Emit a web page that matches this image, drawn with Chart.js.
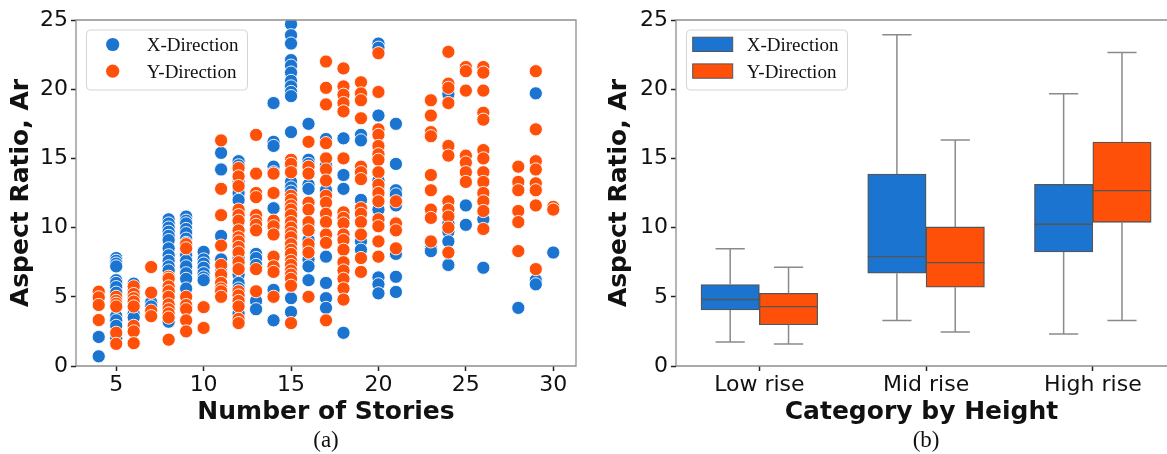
<!DOCTYPE html>
<html>
<head>
<meta charset="utf-8">
<script src="https://cdn.jsdelivr.net/npm/chart.js@4.4.1/dist/chart.umd.min.js"></script>
<style>
  html, body { margin: 0; padding: 0; background: #fff; overflow: hidden; width: 1167px; height: 454px; }
  .panel { position: absolute; top: 0; height: 454px; }
  #pa { left: 0; width: 590px; }
  #pb { left: 590px; width: 577px; }
</style>
</head>
<body>
<div class="panel" id="pa"><canvas id="ca" width="590" height="454"></canvas></div>
<div class="panel" id="pb"><canvas id="cb" width="577" height="454"></canvas></div>
<script>
// ---- (a) aspect ratio of each building vs. number of stories ----
const stories = [4, 5, 6, 7, 8, 9, 10, 11, 12, 13, 14, 15, 16, 17, 18, 19, 20, 21, 23, 24, 25, 26, 28, 29, 30];

// X-direction aspect ratios, one list per story count above
const arX = [
  [2.1, 0.7],
  [7.8, 7.6, 7.4, 7.2, 6.2, 6.0, 5.7, 5.3, 3.6, 3.3, 2.9, 2.0],
  [5.95, 5.5, 4.2, 3.8, 3.5],
  [4.6, 4.3],
  [10.6, 10.3, 10.0, 9.7, 9.4, 9.1, 8.5, 8.0, 7.6, 7.2, 6.9, 3.4, 3.2],
  [10.8, 10.5, 10.3, 9.9, 9.6, 9.2, 8.9, 8.0, 7.6, 7.2, 6.7, 6.3, 5.6],
  [8.25, 7.7, 7.4, 7.1, 6.7, 6.4, 6.2],
  [15.4, 14.2, 9.4, 7.7, 7.2, 6.8, 6.5],
  [14.8, 14.5, 13.3, 13.0, 12.5, 12.0, 11.0, 10.4, 8.2, 7.8, 6.6, 6.0, 5.6, 5.2, 4.8, 4.3, 3.8],
  [8.1, 7.8, 7.3, 4.7, 4.1],
  [19.0, 16.2, 15.9, 14.4, 14.0, 11.4, 5.5, 3.3],
  [24.7, 23.9, 23.3, 22.1, 21.7, 21.2, 20.6, 20.2, 19.8, 19.5, 16.9, 14.5, 14.3, 13.3, 12.9, 12.6, 11.6, 10.8, 10.2, 4.9, 3.9],
  [17.5, 14.9, 14.6, 13.1, 12.8, 10.2, 9.8, 9.1, 8.6, 7.7, 7.2, 6.2],
  [16.4, 14.5, 12.7, 7.9, 6.0, 4.9, 4.2],
  [16.45, 13.8, 12.8, 2.4],
  [16.7, 16.3, 12.0, 9.0, 8.4],
  [23.3, 23.0, 18.1, 13.4, 12.9, 11.3, 6.4, 5.9, 5.25],
  [17.5, 14.6, 12.7, 12.4, 11.6, 8.1, 6.45, 5.35],
  [8.5, 8.3],
  [19.65, 10.3, 9.7, 9.0, 7.3],
  [11.6, 10.2],
  [10.6, 7.1],
  [4.2],
  [19.7, 6.2, 5.9],
  [8.2]
];

// Y-direction aspect ratios, one list per story count above
const arY = [
  [5.37, 4.96, 4.41, 3.32],
  [5.0, 4.7, 4.5, 4.3, 2.4, 1.6],
  [5.75, 5.2, 4.9, 4.65, 4.3, 2.9, 2.5, 1.65],
  [7.15, 5.3, 4.0, 3.6],
  [6.45, 6.3, 5.75, 5.4, 5.0, 4.45, 4.1, 3.8, 3.5, 1.9],
  [8.8, 8.5, 5.0, 4.4, 4.1, 3.3, 2.5],
  [4.25, 2.75],
  [16.3, 12.8, 10.9, 8.7, 7.3, 6.6, 6.0, 5.6, 5.4, 5.0],
  [14.3, 13.7, 13.0, 11.3, 10.9, 10.5, 9.8, 9.3, 9.0, 8.6, 8.2, 7.5, 7.0, 5.4, 5.1, 4.7, 4.3, 3.4, 3.1],
  [16.7, 13.9, 12.5, 12.2, 10.9, 10.5, 10.2, 9.8, 7.0, 5.4],
  [13.9, 12.5, 10.5, 10.1, 9.5, 7.9, 7.2, 6.8, 5.0],
  [14.9, 14.6, 14.0, 12.3, 12.0, 11.6, 11.3, 10.9, 10.4, 10.0, 9.6, 9.3, 8.8, 8.4, 8.1, 7.6, 7.3, 6.9, 6.6, 6.3, 5.8, 3.1],
  [16.2, 14.4, 13.9, 11.8, 11.3, 10.4, 9.8, 8.8, 8.2, 5.0],
  [22.0, 20.1, 18.9, 16.1, 15.0, 14.2, 13.4, 12.3, 11.8, 11.0, 10.4, 9.5, 8.9, 3.3],
  [21.5, 20.2, 19.6, 19.0, 18.4, 15.0, 11.1, 10.7, 10.3, 9.5, 9.1, 8.4, 7.5, 6.9, 6.3, 5.6, 4.8],
  [20.5, 19.7, 19.2, 17.9, 14.4, 14.0, 13.5, 11.4, 11.0, 10.4, 9.5, 7.8, 6.8],
  [22.6, 19.8, 17.1, 16.7, 15.9, 15.3, 14.9, 14.0, 13.1, 12.5, 11.9, 10.6, 10.1, 9.0, 7.9],
  [11.9, 10.3, 9.8, 8.5],
  [19.2, 18.1, 16.9, 16.6, 13.8, 12.7, 11.3, 10.7, 9.0],
  [22.7, 20.4, 20.1, 19.0, 15.9, 15.2, 11.9, 11.3, 10.8, 10.0, 8.2],
  [21.6, 21.3, 19.9, 15.2, 14.7, 14.0, 13.3],
  [21.6, 21.2, 19.9, 18.3, 17.8, 15.6, 15.0, 14.0, 13.3, 12.5, 11.9, 11.2, 9.9],
  [14.4, 13.3, 12.7, 11.2, 10.4, 8.3],
  [21.3, 17.1, 14.8, 14.2, 13.2, 12.7, 11.6, 7.0],
  [11.5, 11.3]
];

const storyTicks = [5, 10, 15, 20, 25, 30];
const arTicks = [0, 5, 10, 15, 20, 25];

// ---- (b) box statistics per height category ----
const heightCats = ['Low rise', 'Mid rise', 'High rise'];
const xLo  = [1.73, 3.28, 2.31];
const xQ1  = [4.05, 6.70, 8.24];
const xMed = [4.81, 7.90, 10.24];
const xQ3  = [5.88, 13.87, 13.13];
const xHi  = [8.48, 23.94, 19.68];
const yLo  = [1.59, 2.46, 3.28];
const yQ1  = [2.98, 5.69, 10.38];
const yMed = [4.29, 7.47, 12.67];
const yQ3  = [5.25, 10.05, 16.18];
const yHi  = [7.13, 16.33, 22.66];

const seriesNames = ['X-Direction', 'Y-Direction'];

// ---- styling ----
const BLUE = '#1a74d0';
const ORANGE = '#ff500a';
const SPINE = '#8e8e8e';
const EDGE = '#555555';
const WHISKER = '#8a8a8a';
const DODGE = 0.175;

Chart.defaults.font.family = '"DejaVu Sans", sans-serif';
Chart.defaults.color = '#111';

const toPoints = (lists) => stories.flatMap((s, i) => lists[i].map(v => ({ x: s, y: v })));

// spines, framed legend and caption under each panel
const panelDecor = {
  id: 'panelDecor',
  afterDatasetsDraw(chart, args, o) {
    const { ctx, chartArea: a } = chart;
    ctx.save();
    ctx.strokeStyle = SPINE;
    ctx.lineWidth = 1.3;
    ctx.beginPath();
    ctx.moveTo(a.left, a.bottom);
    ctx.lineTo(a.left, a.top);
    ctx.lineTo(a.right, a.top);
    if (o.rightSpine) ctx.lineTo(a.right, a.bottom); else ctx.moveTo(a.right, a.bottom);
    ctx.lineTo(a.left, a.bottom);
    ctx.stroke();
    ctx.restore();
  },
  afterDraw(chart, args, o) {
    const { ctx, chartArea: a } = chart;
    const bx = a.left + 10, by = a.top + 9.5, bw = 161, bh = 60;
    ctx.save();
    ctx.beginPath();
    ctx.roundRect(bx + 0.5, by + 0.5, bw, bh, 4);
    ctx.fillStyle = 'rgba(255,255,255,0.85)';
    ctx.fill();
    ctx.strokeStyle = '#d4d4d4';
    ctx.lineWidth = 1;
    ctx.stroke();
    chart.data.datasets.forEach((ds, i) => {
      const cy = by + 15 + i * 26.7;
      if (o.marker === 'circle') {
        ctx.beginPath();
        ctx.arc(bx + 26.7, cy, 6.6, 0, Math.PI * 2);
        ctx.fillStyle = ds.backgroundColor;
        ctx.fill();
      } else {
        ctx.fillStyle = ds.backgroundColor;
        ctx.fillRect(bx + 6.7, cy - 7.3, 40, 14.3);
        ctx.strokeStyle = EDGE;
        ctx.lineWidth = 1;
        ctx.strokeRect(bx + 6.7, cy - 7.3, 40, 14.3);
      }
      ctx.fillStyle = '#111';
      ctx.font = '19px "Liberation Serif", serif';
      ctx.textAlign = 'left';
      ctx.textBaseline = 'alphabetic';
      ctx.fillText(ds.label, bx + 60.7, cy + 6.4);
    });
    ctx.font = '23px "Liberation Serif", serif';
    ctx.textAlign = 'center';
    ctx.fillText(o.caption, chart.scales.x.getPixelForValue(o.captionAt), 447);
    ctx.restore();
  }
};

// whiskers, caps and medians drawn from the box statistics
const boxStats = [
  { lo: xLo, med: xMed, hi: xHi, q1: xQ1, q3: xQ3, off: -DODGE },
  { lo: yLo, med: yMed, hi: yHi, q1: yQ1, q3: yQ3, off: DODGE }
];
const whiskers = {
  id: 'whiskers',
  afterDatasetsDraw(chart) {
    const { ctx, scales: { x, y } } = chart;
    const boxW = x.getPixelForValue(DODGE) - x.getPixelForValue(-DODGE);
    ctx.save();
    boxStats.forEach(st => {
      heightCats.forEach((c, i) => {
        const cx = x.getPixelForValue(i + st.off);
        const capHalf = boxW / 4;
        const pHi = y.getPixelForValue(st.hi[i]);
        const pLo = y.getPixelForValue(st.lo[i]);
        ctx.strokeStyle = WHISKER;
        ctx.lineWidth = 1.5;
        ctx.beginPath();
        ctx.moveTo(cx, y.getPixelForValue(st.q3[i]));
        ctx.lineTo(cx, pHi);
        ctx.moveTo(cx - capHalf, pHi);
        ctx.lineTo(cx + capHalf, pHi);
        ctx.moveTo(cx, y.getPixelForValue(st.q1[i]));
        ctx.lineTo(cx, pLo);
        ctx.moveTo(cx - capHalf, pLo);
        ctx.lineTo(cx + capHalf, pLo);
        ctx.stroke();
        ctx.strokeStyle = EDGE;
        ctx.lineWidth = 1.4;
        ctx.beginPath();
        ctx.moveTo(cx - boxW / 2, y.getPixelForValue(st.med[i]));
        ctx.lineTo(cx + boxW / 2, y.getPixelForValue(st.med[i]));
        ctx.stroke();
      });
    });
    ctx.restore();
  }
};

const tickFont = { family: '"DejaVu Sans", sans-serif', size: 22 };
const titleFont = { family: '"DejaVu Sans", sans-serif', size: 25, weight: 'bold' };
const axisGrid = { drawOnChartArea: false, drawTicks: true, tickLength: 5, tickColor: '#222', tickWidth: 1.5, offset: false };

function yAxis(width, titlePad) {
  return {
    type: 'linear', min: 0, max: 25,
    afterBuildTicks: s => { s.ticks = arTicks.map(v => ({ value: v })); },
    afterFit: s => { s.width = width; },
    grid: axisGrid,
    border: { display: false },
    ticks: { font: tickFont, padding: 3, color: '#111' },
    title: { display: true, text: 'Aspect Ratio, Ar', font: titleFont, color: '#111', padding: { top: titlePad, bottom: 0 } }
  };
}

// (a) scatter
new Chart(document.getElementById('ca'), {
  type: 'scatter',
  data: {
    datasets: [
      { label: seriesNames[0], data: toPoints(arX), backgroundColor: BLUE, borderColor: '#ffffff', borderWidth: 0.9, pointRadius: 6.6, order: 1 },
      { label: seriesNames[1], data: toPoints(arY), backgroundColor: ORANGE, borderColor: '#ffffff', borderWidth: 0.9, pointRadius: 6.6, order: 0 }
    ]
  },
  plugins: [panelDecor],
  options: {
    responsive: false, animation: false, events: [], devicePixelRatio: 1,
    layout: { padding: { top: 20, right: 14, left: 0, bottom: 0 } },
    plugins: {
      legend: { display: false }, tooltip: { enabled: false },
      panelDecor: { marker: 'circle', rightSpine: true, caption: '(a)', captionAt: 17 }
    },
    scales: {
      x: {
        type: 'linear', min: 2.7, max: 31.3,
        afterBuildTicks: s => { s.ticks = storyTicks.map(v => ({ value: v })); },
        afterFit: s => { s.height = 88; },
        grid: axisGrid,
        border: { display: false },
        ticks: { font: tickFont, padding: 1, color: '#111', maxRotation: 0 },
        title: { display: true, text: 'Number of Stories', font: titleFont, color: '#111', padding: { top: 0, bottom: 26.7 } }
      },
      y: yAxis(76, 6.5)
    }
  }
});

// (b) box plots: boxes are floating bars from Q1 to Q3
new Chart(document.getElementById('cb'), {
  type: 'bar',
  data: {
    datasets: [
      { label: seriesNames[0], data: heightCats.map((c, i) => ({ x: i - DODGE, y: [xQ1[i], xQ3[i]] })), backgroundColor: BLUE },
      { label: seriesNames[1], data: heightCats.map((c, i) => ({ x: i + DODGE, y: [yQ1[i], yQ3[i]] })), backgroundColor: ORANGE }
    ]
  },
  plugins: [whiskers, panelDecor],
  options: {
    responsive: false, animation: false, events: [], devicePixelRatio: 1,
    layout: { padding: { top: 20, right: 0, left: 0, bottom: 0 } },
    datasets: { bar: { grouped: false, barPercentage: 1, categoryPercentage: 1, borderColor: EDGE, borderWidth: 1.3, borderSkipped: false } },
    plugins: {
      legend: { display: false }, tooltip: { enabled: false },
      panelDecor: { marker: 'rect', rightSpine: false, caption: '(b)', captionAt: 1 }
    },
    scales: {
      x: {
        type: 'linear', min: -0.5, max: 2.445, offset: false,
        afterBuildTicks: s => { s.ticks = heightCats.map((c, i) => ({ value: i })); },
        afterFit: s => { s.height = 88; },
        grid: axisGrid,
        border: { display: false },
        ticks: { font: tickFont, padding: 1, color: '#111', maxRotation: 0, autoSkip: false, callback: v => heightCats[v] },
        title: { display: true, text: 'Category by Height', font: titleFont, color: '#111', padding: { top: 0, bottom: 26.7 } }
      },
      y: yAxis(86, 14.5)
    }
  }
});
</script>
</body>
</html>
